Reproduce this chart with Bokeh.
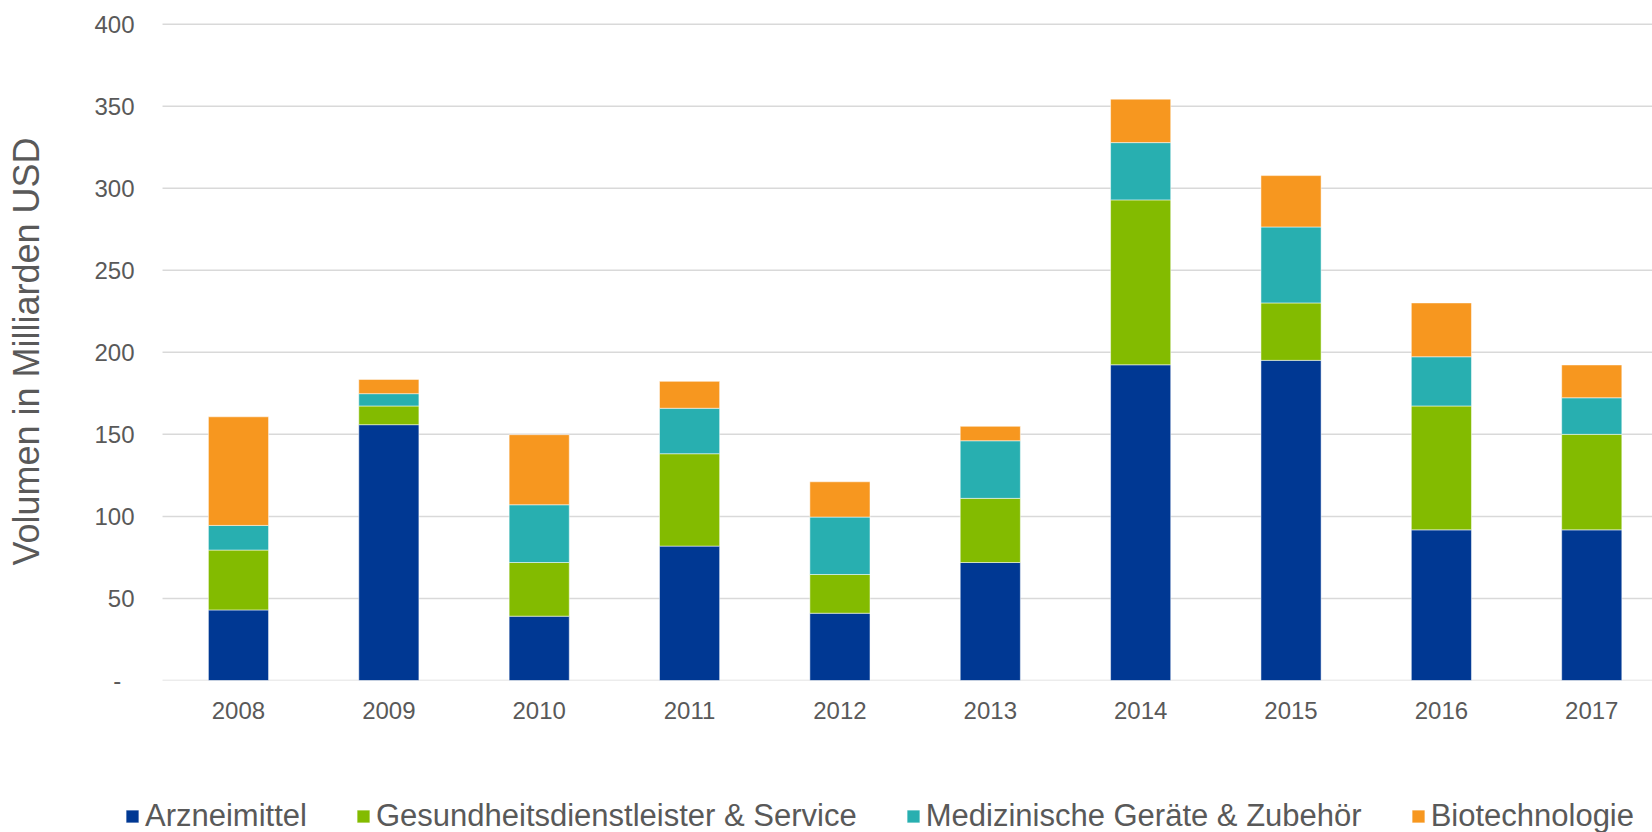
from bokeh.plotting import figure
from bokeh.layouts import column
from bokeh.models import Range1d, FixedTicker, Legend, LegendItem, ColumnDataSource
from bokeh.embed import file_html
from bokeh.resources import INLINE

years = ["2008", "2009", "2010", "2011", "2012", "2013", "2014", "2015", "2016", "2017"]
arzneimittel = [43.0, 155.9, 39.2, 81.9, 41.0, 71.9, 192.4, 195.1, 91.8, 91.8]
gesundheit = [36.5, 11.4, 32.7, 56.3, 23.6, 39.1, 100.5, 35.0, 75.5, 58.2]
medizin = [15.0, 7.5, 35.2, 27.7, 35.0, 35.1, 34.9, 46.3, 30.0, 22.3]
biotech = [66.2, 8.7, 42.7, 16.4, 21.5, 8.8, 26.5, 31.3, 32.8, 20.0]

series_names = ["Arzneimittel", "Gesundheitsdienstleister & Service",
                "Medizinische Geräte & Zubehör", "Biotechnologie"]
colors = ["#003893", "#83BB00", "#28AFB0", "#F7971F"]
y_ticks = [0, 50, 100, 150, 200, 250, 300, 350, 400]

FONT = "Liberation Sans"
TXT = "#595959"

# category band starts half a slot left of the first bar
BAND_START = -0.505
X_START, X_END = -0.758, 9.404

source = ColumnDataSource(dict(
    x=list(range(len(years))),
    a=arzneimittel, g=gesundheit, m=medizin, b=biotech,
))

p = figure(width=1652, height=732, output_backend="svg", toolbar_location=None,
           x_range=Range1d(X_START, X_END), y_range=Range1d(0, 401),
           min_border_left=124, min_border_right=0, min_border_top=22,
           min_border_bottom=52)

# horizontal gridlines spanning the category band only
p.segment(x0=BAND_START, x1=X_END, y0=y_ticks, y1=y_ticks,
          line_color="#D9D9D9", line_width=1.5, level="underlay")

rs = p.vbar_stack(["a", "g", "m", "b"], x="x", width=0.4, color=colors,
                  line_color="white", line_alpha=0.5, line_width=1, source=source)

p.outline_line_color = None
p.xgrid.visible = False
p.ygrid.visible = False

p.yaxis.ticker = FixedTicker(ticks=y_ticks)
p.yaxis.major_label_overrides = {0: "-\u00a0\u00a0"}
p.xaxis.ticker = FixedTicker(ticks=list(range(len(years))))
p.xaxis.major_label_overrides = {i: y for i, y in enumerate(years)}

for ax in (p.xaxis[0], p.yaxis[0]):
    ax.axis_line_color = None
    ax.major_tick_line_color = None
    ax.minor_tick_line_color = None
    ax.major_label_text_font = FONT
    ax.major_label_text_font_size = "24px"
    ax.major_label_text_color = TXT

p.yaxis.major_label_standoff = -16
p.xaxis.major_label_standoff = 15
p.yaxis.axis_label = "Volumen in Milliarden USD"
p.yaxis.axis_label_text_font = FONT
p.yaxis.axis_label_text_font_size = "36px"
p.yaxis.axis_label_text_font_style = "normal"
p.yaxis.axis_label_text_color = TXT
p.yaxis.axis_label_standoff = 44

# legend strip below the chart
lg = figure(width=1652, height=100, output_backend="svg", toolbar_location=None,
            x_range=Range1d(0, 1), y_range=Range1d(0, 1),
            x_axis_type=None, y_axis_type=None, min_border=0)
lg.outline_line_color = None
lg.grid.visible = False
proxies = [lg.vbar(x=[0], top=[0], width=0, color=c, line_color="white", line_alpha=0.5)
           for c in colors]

legend = Legend(items=[LegendItem(label=n, renderers=[r]) for n, r in zip(series_names, proxies)],
                orientation="horizontal", location=(0, -2))
legend.label_text_font = FONT
legend.label_text_font_size = "31px"
legend.label_text_color = TXT
legend.glyph_width = 16
legend.glyph_height = 16
legend.label_standoff = 5
legend.spacing = 48
legend.padding = 0
legend.margin = 0
legend.border_line_alpha = 0
legend.background_fill_alpha = 0
lg.add_layout(legend, "center")

open("out.html", "w").write(file_html(column(p, lg, spacing=0), INLINE))
